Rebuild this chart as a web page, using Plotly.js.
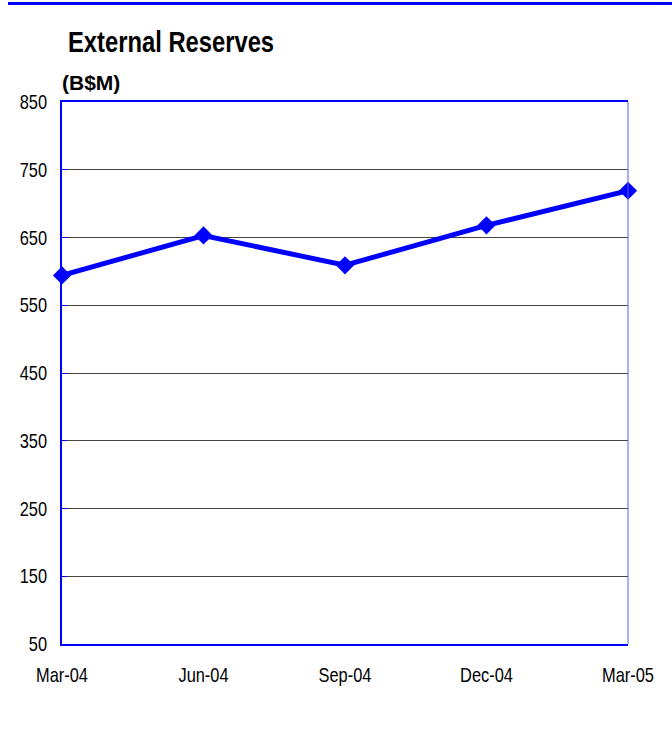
<!DOCTYPE html>
<html>
<head>
<meta charset="utf-8">
<script src="https://cdn.plot.ly/plotly-3.0.1.min.js"></script>
<style>
  html, body { margin: 0; padding: 0; background: #ffffff; }
  #chart { width: 672px; height: 731px; }
</style>
</head>
<body>
<div id="chart"></div>
<script>
// Data
var quarters = ["Mar-04", "Jun-04", "Sep-04", "Dec-04", "Mar-05"];
var reserves = [594, 653, 609, 668, 719];
var yTickValues = [50, 150, 250, 350, 450, 550, 650, 750, 850];

var chartTitle = "External Reserves";
var unitLabel = "(B$M)";

var FONT = "'Liberation Sans Narrow', 'Arial Narrow', 'Liberation Sans', Arial, sans-serif";
var BLUE = "#0000ff";
var NARROW = 0.82; // horizontal squeeze to mimic a narrow face

var trace = {
  x: quarters,
  y: reserves,
  type: "scatter",
  mode: "lines+markers",
  line: { color: BLUE, width: 5 },
  marker: { symbol: "diamond", size: 14, color: BLUE },
  cliponaxis: false,
  hoverinfo: "x+y"
};

var layout = {
  width: 672,
  height: 731,
  margin: { l: 62, r: 44, t: 102, b: 87 },
  paper_bgcolor: "#ffffff",
  plot_bgcolor: "#ffffff",
  showlegend: false,
  font: { family: FONT, size: 20, color: "#000000" },
  xaxis: {
    type: "category",
    range: [0, quarters.length - 1],
    showgrid: false,
    zeroline: false,
    showline: true,
    linecolor: BLUE,
    linewidth: 2,
    mirror: true,
    ticks: "",
    ticklabelstandoff: 12,
    tickfont: { family: FONT, size: 20, color: "#000000" },
    fixedrange: true
  },
  yaxis: {
    range: [50, 850],
    tickvals: yTickValues,
    ticktext: yTickValues.map(String),
    showgrid: true,
    gridcolor: "#444444",
    gridwidth: 1,
    zeroline: false,
    showline: true,
    linecolor: BLUE,
    linewidth: 2,
    mirror: false,
    ticks: "inside",
    ticklen: 5,
    tickcolor: BLUE,
    tickwidth: 1,
    ticklabelstandoff: 9,
    tickfont: { family: FONT, size: 20, color: "#000000" },
    fixedrange: true
  },
  shapes: [
    {
      type: "line", xref: "paper", yref: "paper",
      x0: -0.0954, x1: 1.0777, y0: 1.1817, y1: 1.1817,
      line: { color: BLUE, width: 3 }
    },
    {
      type: "line", xref: "paper", yref: "paper",
      x0: 1, x1: 1, y0: 0, y1: 1,
      line: { color: "#5a5aff", width: 1 }
    }
  ],
  annotations: [
    {
      text: chartTitle, xref: "paper", yref: "paper",
      x: 0.0075, y: 1.1107, xanchor: "left", yanchor: "middle", align: "left",
      showarrow: false,
      font: { family: FONT, size: 29, color: "#000000", weight: "bold" }
    },
    {
      text: unitLabel, xref: "paper", yref: "paper",
      x: -0.004, y: 1.0369, xanchor: "left", yanchor: "middle", align: "left",
      showarrow: false,
      font: { family: FONT, size: 21, color: "#000000", weight: "bold" }
    }
  ]
};

function squeeze(el, s) {
  var x = parseFloat(el.getAttribute("x")) || 0;
  var t = el.getAttribute("transform") || "";
  el.setAttribute("transform", t + " translate(" + x + ",0) scale(" + s + ",1) translate(" + (-x) + ",0)");
}

Plotly.newPlot("chart", [trace], layout, { displayModeBar: false, staticPlot: true }).then(function (gd) {
  gd.querySelectorAll(".xtick text, .ytick text").forEach(function (el) { squeeze(el, NARROW); });
  var ann = gd.querySelectorAll(".annotation-text");
  if (ann.length) squeeze(ann[0], NARROW);
});
</script>
</body>
</html>
